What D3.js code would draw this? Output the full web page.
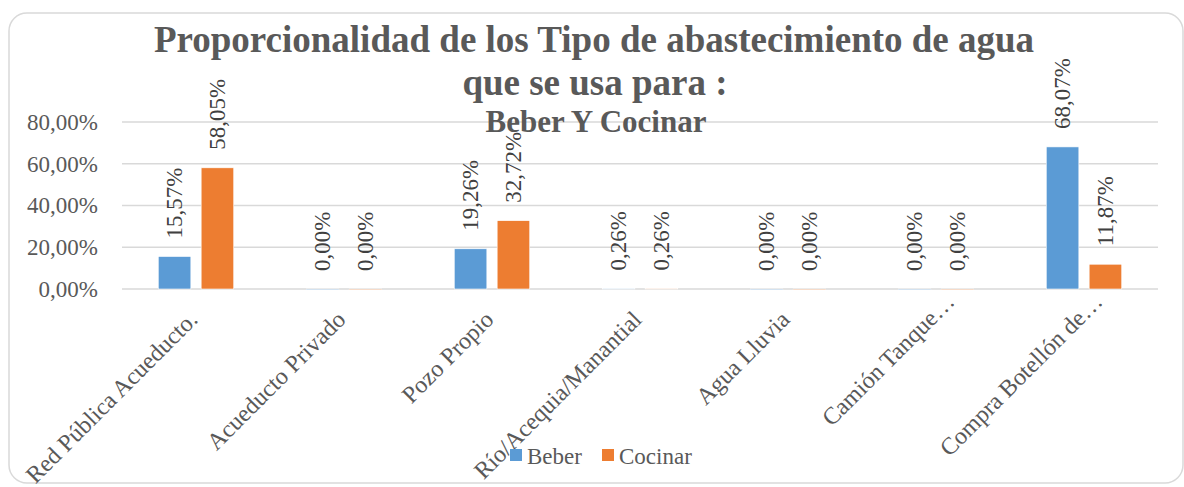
<!DOCTYPE html>
<html><head><meta charset="utf-8">
<script src="https://cdn.jsdelivr.net/npm/d3@7"></script>
<style>
html,body{margin:0;padding:0;background:#fff;}
svg{display:block;}
svg text{font-family:"Liberation Serif","Times New Roman",serif;}
</style></head>
<body>
<svg id="chart" width="1184" height="487"></svg>
<script>
const categories = ["Red Pública Acueducto.", "Acueducto Privado", "Pozo Propio", "Río/Acequia/Manantial", "Agua Lluvia", "Camión Tanque…", "Compra Botellón de…"];
const seriesNames = ["Beber", "Cocinar"];
const beber = [15.57, 0, 19.26, 0.26, 0, 0, 68.07];
const cocinar = [58.05, 0, 32.72, 0.26, 0, 0, 11.87];
const yTicks = [0, 20, 40, 60, 80];
const titleLines = ["Proporcionalidad de los Tipo de abastecimiento de agua", "que se usa para :"];
const subtitle = "Beber Y Cocinar";
const colors = ["#5B9BD5", "#ED7D31"];

const FONT = "Liberation Serif";
const svg = d3.select("#chart");
const plot = {left: 122, right: 1158, top: 122, bottom: 289};
const txt = "#595959";

svg.append("rect").attr("x", 9).attr("y", 13).attr("width", 1174).attr("height", 470)
  .attr("rx", 18).attr("fill", "#fff").attr("stroke", "#d9d9d9").attr("stroke-width", 1.5);

const y = d3.scaleLinear().domain([0, 80]).range([plot.bottom, plot.top]);
const x0 = d3.scaleBand().domain(categories).range([plot.left, plot.right]).paddingInner(0.49).paddingOuter(0.245);
const x1 = d3.scaleBand().domain(seriesNames).range([0, x0.bandwidth()]).paddingInner(0.24);

const fmt = v => v.toFixed(2).replace(".", ",") + "%";

// gridlines
svg.append("g").selectAll("line").data(yTicks).join("line")
  .attr("x1", plot.left).attr("x2", plot.right)
  .attr("y1", d => y(d)).attr("y2", d => y(d))
  .attr("stroke", "#d9d9d9").attr("stroke-width", 1.3);

// y axis
const yAxis = d3.axisLeft(y).tickValues(yTicks).tickSize(0).tickPadding(0).tickFormat(fmt);
const gy = svg.append("g").attr("transform", `translate(98,0)`).call(yAxis);
gy.attr("font-family", FONT);
gy.select(".domain").remove();
gy.selectAll("text").attr("fill", txt).attr("font-size", 23).attr("font-family", FONT);

// x axis labels
const xAxis = d3.axisBottom(x0).tickSize(0).tickPadding(0);
const gx = svg.append("g").attr("transform", `translate(0,${plot.bottom})`).call(xAxis);
gx.attr("font-family", FONT);
gx.select(".domain").remove();
gx.selectAll(".tick text")
  .attr("fill", txt).attr("font-size", 24).attr("font-family", FONT)
  .attr("text-anchor", "end").attr("dy", 0).attr("y", 0)
  .attr("transform", d => d.endsWith("…") ? "translate(20,14) rotate(-45)" : "translate(3,32) rotate(-45)");

// bars
const data = categories.map((c, i) => ({cat: c, vals: [
  {s: seriesNames[0], v: beber[i], c: colors[0]},
  {s: seriesNames[1], v: cocinar[i], c: colors[1]}]}));
const groups = svg.append("g").selectAll("g").data(data).join("g")
  .attr("transform", d => `translate(${x0(d.cat)},0)`);
groups.selectAll("rect").data(d => d.vals).join("rect")
  .attr("x", d => x1(d.s)).attr("width", x1.bandwidth())
  .attr("y", d => y(d.v)).attr("height", d => Math.max(0.6, y(0) - y(d.v)))
  .attr("fill", d => d.c).attr("stroke", "#fff").attr("stroke-width", 0.6);
groups.selectAll("text").data(d => d.vals).join("text")
  .attr("transform", d => `translate(${x1(d.s) + x1.bandwidth() / 2},${y(d.v) - 18}) rotate(-90)`)
  .attr("dy", "0.33em").attr("text-anchor", "start").attr("font-family", FONT)
  .attr("font-size", 23).attr("fill", "#404040").text(d => fmt(d.v));

// title
const tt = svg.append("text").attr("text-anchor", "middle").attr("fill", txt)
  .attr("font-family", FONT).attr("font-weight", "bold").attr("font-size", 37);
tt.append("tspan").attr("x", 594).attr("y", 52).text(titleLines[0]);
tt.append("tspan").attr("x", 595).attr("y", 95).text(titleLines[1]);
svg.append("text").attr("text-anchor", "middle").attr("fill", txt).attr("font-family", FONT)
  .attr("font-weight", "bold").attr("font-size", 31).attr("x", 596).attr("y", 132).text(subtitle);

// legend
const lg = svg.append("g");
const legX = [510, 602];
seriesNames.forEach((s, i) => {
  lg.append("rect").attr("x", legX[i]).attr("y", 449).attr("width", 12).attr("height", 12).attr("fill", colors[i]);
  lg.append("text").attr("x", legX[i] + 17).attr("y", 464).attr("font-family", FONT)
    .attr("font-size", 23).attr("fill", txt).text(s);
});
</script>
</body></html>
